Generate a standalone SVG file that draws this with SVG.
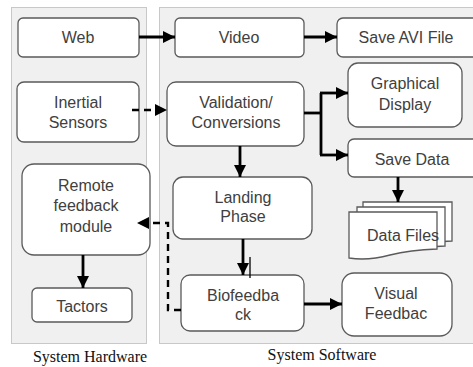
<svg xmlns="http://www.w3.org/2000/svg" width="473" height="367" viewBox="0 0 473 367">
<style>
.panel{fill:#f0f0f0;stroke:#c8c8c8;stroke-width:1}
.box{fill:#fff;stroke:#5a5a5a;stroke-width:1.3}
.t{font-family:"Liberation Sans",Arial,sans-serif;font-size:16px;fill:#404040;text-anchor:middle}
.cap{font-family:"Liberation Serif","Times New Roman",serif;font-size:16px;fill:#111;text-anchor:middle}
.c{fill:none;stroke:#000;stroke-width:2.8}
.d{fill:none;stroke:#000;stroke-width:2.4;stroke-dasharray:7,5}
</style>
<defs>
<marker id="ah" markerUnits="userSpaceOnUse" markerWidth="12" markerHeight="12" refX="12" refY="6" orient="auto">
<path d="M0,0 L12,6 L0,12 z" fill="#000"/>
</marker>
</defs>
<rect width="473" height="367" fill="#fff"/>
<g id="panels">
<rect class="panel" x="11.5" y="7.5" width="135" height="336"/>
<rect class="panel" x="159.5" y="7.5" width="330" height="336"/>
<text class="cap" x="90" y="362">System Hardware</text>
<text class="cap" x="322" y="360">System Software</text>
</g>
<g id="web">
<rect class="box" x="18" y="18" width="121" height="39" rx="5"/>
<text class="t" x="78" y="43">Web</text>
</g>
<g id="video">
<rect class="box" x="175" y="18" width="129" height="39" rx="5"/>
<text class="t" x="239" y="43">Video</text>
</g>
<g id="saveavi">
<rect class="box" x="337" y="18" width="145" height="39" rx="6"/>
<text class="t" x="406" y="43">Save AVI File</text>
</g>
<g id="inertial">
<rect class="box" x="17" y="82" width="122" height="60" rx="7"/>
<text class="t" x="78" y="108">Inertial</text>
<text class="t" x="78" y="128">Sensors</text>
</g>
<g id="validation">
<rect class="box" x="167" y="82" width="137" height="64" rx="9"/>
<text class="t" x="236" y="108">Validation/</text>
<text class="t" x="236" y="128">Conversions</text>
</g>
<g id="graphical">
<rect class="box" x="348" y="63" width="114" height="64" rx="10"/>
<text class="t" x="405" y="89">Graphical</text>
<text class="t" x="405" y="110">Display</text>
</g>
<g id="savedata">
<rect class="box" x="348" y="139" width="135" height="38" rx="6"/>
<text class="t" x="412" y="165">Save Data</text>
</g>
<g id="datafiles">
<path class="box" d="M363,202 H452 V241 Q425,242 405,246 Q385,250 363,248 Z"/>
<path class="box" d="M357,207 H445 V246 Q418,247 398,251 Q378,255 357,253 Z"/>
<path class="box" d="M349,212 H437 V249 Q410,250 390,255 Q368,261 349,258 Z"/>
<text class="t" x="367" y="241" style="text-anchor:start">Data Files</text>
</g>
<g id="remote">
<rect class="box" x="22" y="164" width="128" height="91" rx="12"/>
<text class="t" x="86" y="191">Remote</text>
<text class="t" x="86" y="211">feedback</text>
<text class="t" x="86" y="232">module</text>
</g>
<g id="tactors">
<rect class="box" x="32" y="288" width="100" height="34" rx="5"/>
<text class="t" x="82" y="312">Tactors</text>
</g>
<g id="landing">
<rect class="box" x="173" y="177" width="139" height="62" rx="10"/>
<text class="t" x="243" y="203">Landing</text>
<text class="t" x="243" y="222">Phase</text>
</g>
<g id="biofeedback">
<rect class="box" x="181" y="275" width="123" height="56" rx="9"/>
<text class="t" x="243" y="301">Biofeedba</text>
<text class="t" x="243" y="320">ck</text>
</g>
<g id="visual">
<rect class="box" x="342" y="273" width="110" height="63" rx="12"/>
<text class="t" x="396" y="299">Visual</text>
<text class="t" x="396" y="319">Feedbac</text>
</g>
<g id="connectors">
<path class="c" d="M139,37 H175" marker-end="url(#ah)"/>
<path class="c" d="M304,37 H337" marker-end="url(#ah)"/>
<path class="d" d="M132,110 H167" marker-end="url(#ah)"/>
<path class="c" d="M304,113 H321"/>
<path class="c" d="M321,93 V155"/>
<path class="c" d="M320,93 H348" marker-end="url(#ah)"/>
<path class="c" d="M320,155 H348" marker-end="url(#ah)"/>
<path class="c" d="M240,146 V177" marker-end="url(#ah)"/>
<path class="c" d="M398,177 V202" marker-end="url(#ah)"/>
<path class="c" d="M243,239 V275" marker-end="url(#ah)"/>
<path d="M250,257 V278" stroke="#000" stroke-width="1.3"/>
<path class="c" d="M304,304 H342" marker-end="url(#ah)"/>
<path class="d" d="M181,310 H168 V223 H137" marker-end="url(#ah)"/>
<path class="c" d="M83,255 V288" marker-end="url(#ah)"/>
</g>
</svg>
